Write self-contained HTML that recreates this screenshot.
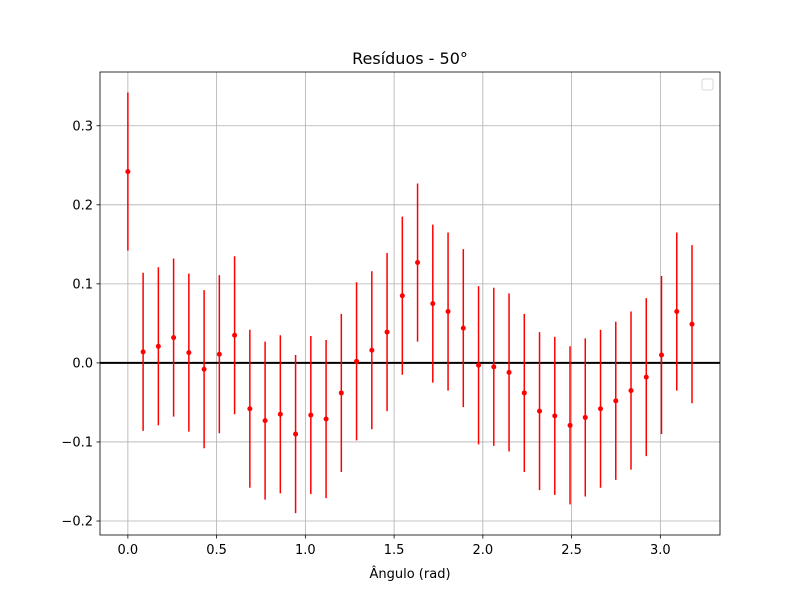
<!DOCTYPE html>
<html><head><meta charset="utf-8"><style>
body{margin:0;background:#fff;font-family:"Liberation Sans","DejaVu Sans",sans-serif}
</style></head><body>
<svg id="chart" width="800" height="600" xmlns="http://www.w3.org/2000/svg" font-family="DejaVu Sans, Liberation Sans, sans-serif"></svg>
<script>
const values=[0.242,0.014,0.021,0.032,0.013,-0.008,0.011,0.035,-0.058,-0.073,-0.065,-0.090,-0.066,-0.071,-0.038,0.002,0.016,0.039,0.085,0.127,0.075,0.065,0.044,-0.003,-0.005,-0.012,-0.038,-0.061,-0.067,-0.079,-0.069,-0.058,-0.048,-0.035,-0.018,0.010,0.065,0.049];
const errors=values.map(()=>0.1);
const xStep=0.0859;
const xTicks=[0.0,0.5,1.0,1.5,2.0,2.5,3.0];
const xTickLabels=["0.0","0.5","1.0","1.5","2.0","2.5","3.0"];
const yTicks=[-0.2,-0.1,0.0,0.1,0.2,0.3];
const yTickLabels=["−0.2","−0.1","0.0","0.1","0.2","0.3"];

const L=100,R=720,T=72,B=535;
const xMin=-0.157,xMax=3.336,yMin=-0.2177,yMax=0.368;
const sx=v=>L+(v-xMin)/(xMax-xMin)*(R-L);
const sy=v=>B-(v-yMin)/(yMax-yMin)*(B-T);
const svg=document.getElementById('chart');
const NS='http://www.w3.org/2000/svg';
function mk(tag,attrs,parent){const e=document.createElementNS(NS,tag);for(const k in attrs)e.setAttribute(k,attrs[k]);(parent||svg).appendChild(e);return e;}

xTicks.forEach((t,i)=>{
  const x=sx(t);
  const g=mk('line',{x1:x,x2:x,y1:T,y2:B,stroke:'#b0b0b0','stroke-width':0.8});
  
  
  mk('line',{x1:x,x2:x,y1:B,y2:B+3.5,stroke:'#000','stroke-width':0.8});
  const tx=mk('text',{x:x,y:B+19,'text-anchor':'middle','font-size':13});
  tx.textContent=xTickLabels[i];
  
  
});
yTicks.forEach((t,i)=>{
  const y=sy(t);
  const g=mk('line',{x1:L,x2:R,y1:y,y2:y,stroke:'#b0b0b0','stroke-width':0.8});
  
  
  mk('line',{x1:L-3.5,x2:L,y1:y,y2:y,stroke:'#000','stroke-width':0.8});
  const tx=mk('text',{x:L-7,y:y+4.5,'text-anchor':'end','font-size':13});
  tx.textContent=yTickLabels[i];
  
  
});
const zl=mk('line',{x1:L,x2:R,y1:sy(0),y2:sy(0),stroke:'#000','stroke-width':2});



values.forEach((v,i)=>{
  const x=sx(i*xStep);
  const eb=mk('line',{x1:x,x2:x,y1:sy(v-errors[i]),y2:sy(v+errors[i]),stroke:'#ff0000','stroke-width':1.5});
  
  
  const c=mk('circle',{cx:x,cy:sy(v),r:2.5,fill:'#ff0000'});
  
  
});

const frame=mk('rect',{x:L,y:T,width:R-L,height:B-T,fill:'none',stroke:'#000','stroke-width':0.8});


const lg=mk('rect',{x:702,y:79,width:11,height:11,rx:2,fill:'#fff',stroke:'#ccc','stroke-width':0.8});



const title=mk('text',{x:410,y:64,'text-anchor':'middle','font-size':16});
title.textContent='Resíduos - 50°';


const xl=mk('text',{x:410,y:578,'text-anchor':'middle','font-size':13});
xl.textContent='Ângulo (rad)';


</script>
</body></html>
